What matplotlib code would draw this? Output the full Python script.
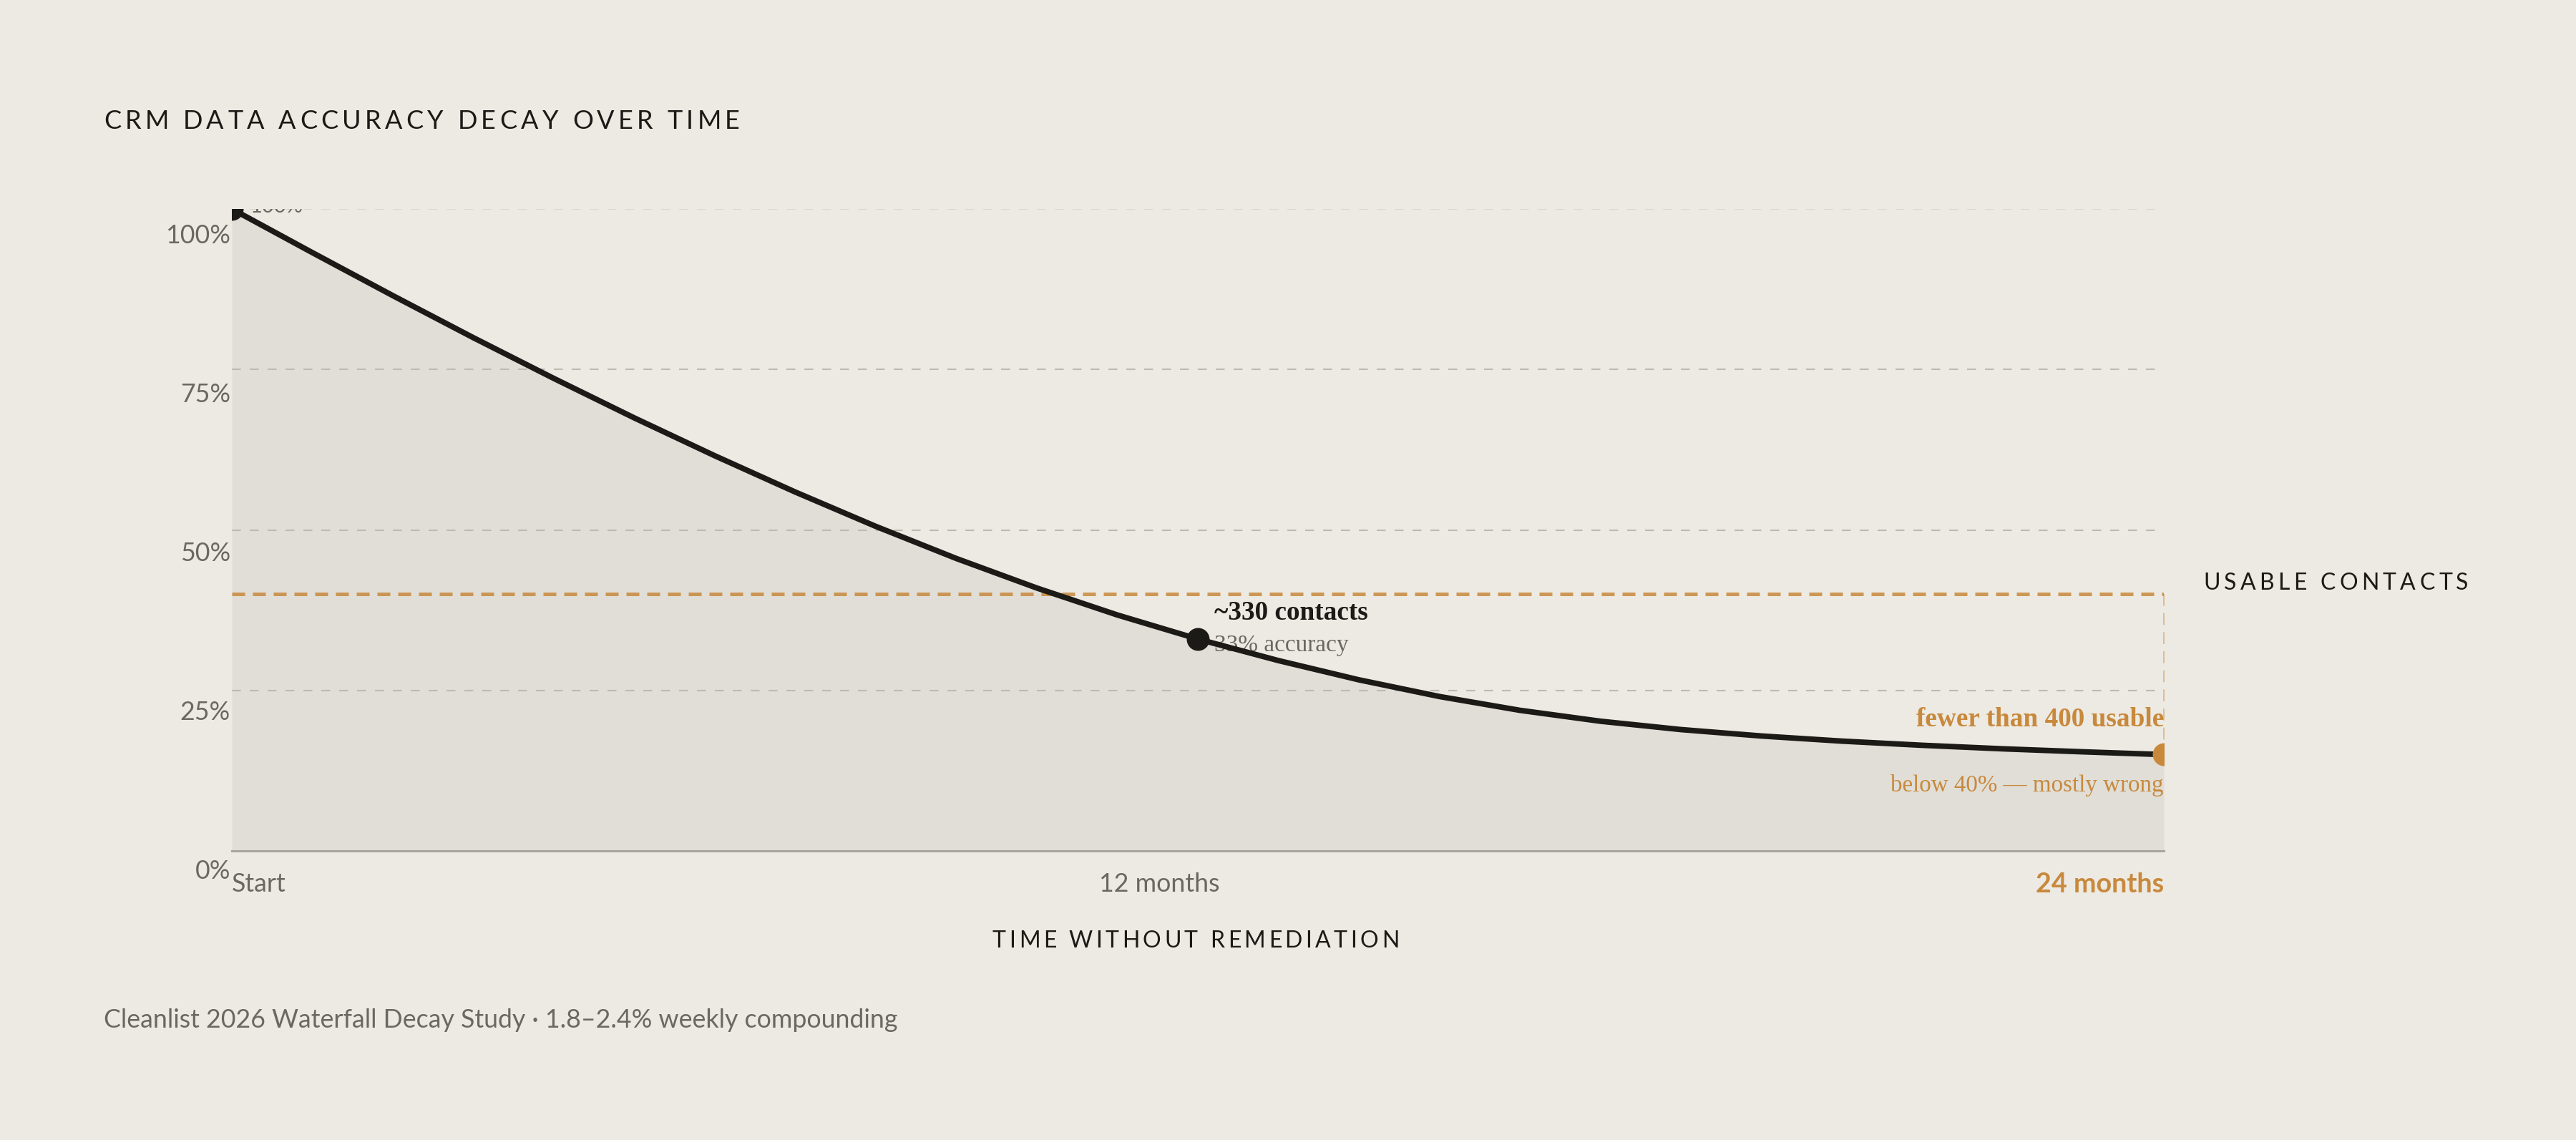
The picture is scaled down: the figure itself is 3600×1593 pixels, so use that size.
import numpy as np
import matplotlib
matplotlib.use("Agg")
import matplotlib.pyplot as plt
from matplotlib.transforms import offset_copy

# data
months = np.arange(25)
accuracy = [100, 93.2, 86.5, 79.95, 73.6, 67.45, 61.55, 55.9, 50.55, 45.55, 40.95, 36.75,
            33.0, 29.65, 26.65, 24.05, 21.9, 20.2, 18.9, 17.9, 17.1, 16.45, 15.9, 15.43, 15.0]
y_ticks = [0, 25, 50, 75, 100]
x_ticks = [0, 12, 24]
x_tick_labels = ["Start", "12 months", "24 months"]
threshold = 40
mid_month = 12
mid_title = "~330 contacts"
mid_sub = "33% accuracy"
end_title = "fewer than 400 usable"
end_sub = "below 40% \u2014 mostly wrong"

BG = "#EDEAE3"
FILL = "#E0DED7"
INK = "#1C1A16"
GREY = "#6B6862"
ORANGE = "#C8893C"
SANS = ["Lato", "DejaVu Sans"]
SERIF = ["Liberation Serif", "DejaVu Serif"]

W, H = 3600, 1593
fig = plt.figure(figsize=(18, 7.965), dpi=200, facecolor=BG)
ax = fig.add_axes([324 / W, 1 - 1189 / H, 2700 / W, 897 / H])
ax.set_facecolor(BG)
ax.set_xlim(0, 24)
ax.set_ylim(0, 100)
for s in ["top", "right", "left"]:
    ax.spines[s].set_visible(False)
ax.spines["bottom"].set_color("#A9A69F")
ax.spines["bottom"].set_linewidth(1.1)
ax.set_xticks([])
ax.set_yticks([])

PX = 72 / 200  # points per pixel

# gridlines
for v in y_ticks[1:]:
    col = "#DAD7D0" if v == 100 else "#BDBAB2"
    ax.axhline(v, color=col, lw=0.75, dashes=(6, 6), zorder=1)

ax.fill_between(months, accuracy, 0, color=FILL, lw=0, zorder=0.5)

# threshold + vertical drop at the end
ax.axhline(threshold, color=ORANGE, alpha=0.85, lw=1.8, dashes=(3.6, 2.2), zorder=2)
ax.plot([months[-1], months[-1]], [threshold, accuracy[-1]], color=ORANGE, alpha=0.55,
        lw=0.6, dashes=(10, 6), zorder=2, clip_on=False)

ax.plot(months, accuracy, color=INK, lw=2.8, zorder=4, solid_capstyle="round",
        solid_joinstyle="round")
ax.plot([months[0], months[mid_month]], [accuracy[0], accuracy[mid_month]], "o",
        color=INK, ms=10.5, zorder=5, clip_on=True)
ax.plot([months[-1]], [accuracy[-1]], "o", color=ORANGE, ms=10.5, zorder=5, clip_on=True)

# clipped start label
ax.text(months[0], accuracy[0], "100%", fontsize=10.5, family=SANS, color=GREY,
        ha="left", va="baseline", clip_on=True, zorder=3,
        transform=offset_copy(ax.transData, fig=fig, x=26 * PX, y=-5 * PX, units="points"))

# y tick labels
for v in y_ticks:
    tr = offset_copy(ax.get_yaxis_transform(), fig=fig, x=-2 * PX,
                     y=-(28 + 0.09 * v) * PX, units="points")
    ax.text(0, v, f"{v}%", transform=tr, ha="right", va="center", fontsize=12.9,
            family=SANS, color=GREY)

# x tick labels
x_off = {0: 0, 12: -54, 24: 0}
x_ha = {0: "left", 12: "center", 24: "right"}
for m, lab in zip(x_ticks, x_tick_labels):
    tr = offset_copy(ax.get_xaxis_transform(), fig=fig, x=x_off[m] * PX, y=-47 * PX, units="points")
    last = m == x_ticks[-1]
    ax.text(m, 0, lab, transform=tr, ha=x_ha[m], va="center",
            fontsize=13.6 if last else 12.9, family=SANS,
            color=ORANGE if last else GREY, weight="bold" if last else "normal")

# annotations
def note(x, y, s, dx, dy, **kw):
    tr = offset_copy(ax.transData, fig=fig, x=dx * PX, y=-dy * PX, units="points")
    ax.text(x, y, s, transform=tr, va="center", family=SERIF, **kw)

note(mid_month, accuracy[mid_month], mid_title, 23, -36, ha="left", fontsize=13.4,
     weight="bold", color=INK, zorder=6)
note(mid_month, accuracy[mid_month], mid_sub, 23, 9, ha="left", fontsize=12,
     color=GREY, zorder=3)
note(months[-1], accuracy[-1], end_title, 0, -49, ha="right", fontsize=13.4,
     weight="bold", color=ORANGE, zorder=6)
note(months[-1], accuracy[-1], end_sub, 0, 43, ha="right", fontsize=11.9,
     color=ORANGE, zorder=6)

# letter-spaced labels, positions in pixels from the top-left
renderer = fig.canvas.get_renderer()


def text_width(s, size):
    t = fig.text(0, 0, s, fontsize=size, family=SANS)
    w = t.get_window_extent(renderer).width
    t.remove()
    return w


def tracked(x, y, s, size, track, color=INK, ha="left"):
    ref = text_width("H", size)
    offs = [text_width(s[:i] + "H", size) - ref + i * track for i in range(len(s))]
    total = text_width(s, size) + (len(s) - 1) * track
    x0 = x - total / 2 if ha == "center" else x
    for ch, o in zip(s, offs):
        if ch != " ":
            fig.text((x0 + o) / W, 1 - y / H, ch, fontsize=size, family=SANS, color=color,
                     ha="left", va="center")


tracked(145, 170, "CRM DATA ACCURACY DECAY OVER TIME", 13, 5.3)
tracked(3079, 815, "USABLE CONTACTS", 11.5, 5.35)
tracked(1671, 1315, "TIME WITHOUT REMEDIATION", 11.5, 4.5, ha="center")

fig.text(145 / W, 1 - 1425 / H,
         "Cleanlist 2026 Waterfall Decay Study \u00b7 1.8\u20132.4% weekly compounding",
         fontsize=12.9, family=SANS, color=GREY, ha="left", va="center")

fig.savefig("out.png", dpi=200, facecolor=BG)
